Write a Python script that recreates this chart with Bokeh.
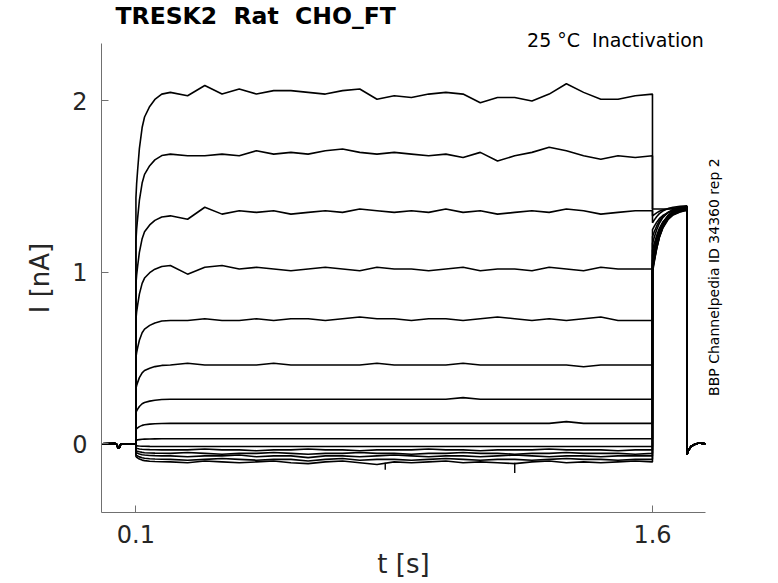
from bokeh.plotting import figure
from bokeh.models import Range1d, FixedTicker, ColumnDataSource, LinearAxis, Title
from bokeh.embed import file_html
from bokeh.resources import INLINE
import math

# ---------------- data ----------------
baseline_t = [0.0, 0.040, 0.045, 0.048, 0.052, 0.056, 0.0999]
baseline_i = [0.0, 0.002, -0.005, -0.025, -0.022, 0.0, 0.0]

rise_t = [0.100, 0.102, 0.105, 0.110, 0.118, 0.125, 0.140, 0.155, 0.175]
rise_frac = [0.70, 0.74, 0.78, 0.84, 0.90, 0.93, 0.96, 0.98, 0.995]

steady_t = [0.20, 0.25, 0.30, 0.35, 0.40, 0.45, 0.50, 0.55, 0.60, 0.65,
            0.70, 0.75, 0.80, 0.85, 0.90, 0.95, 1.00, 1.05, 1.10, 1.15,
            1.20, 1.25, 1.30, 1.35, 1.40, 1.45, 1.50, 1.55, 1.60]

trace_1 = [2.05, 2.03, 2.09, 2.04, 2.07, 2.04, 2.06, 2.06, 2.05, 2.04,
           2.06, 2.07, 2.01, 2.03, 2.02, 2.04, 2.05, 2.04, 1.99, 2.02,
           2.02, 2.00, 2.04, 2.10, 2.05, 2.01, 2.01, 2.03, 2.04]
trace_2 = [1.69, 1.68, 1.68, 1.69, 1.68, 1.71, 1.69, 1.70, 1.69, 1.71,
           1.72, 1.70, 1.69, 1.70, 1.69, 1.68, 1.69, 1.67, 1.70, 1.65,
           1.68, 1.70, 1.73, 1.71, 1.68, 1.66, 1.68, 1.67, 1.68]
trace_3 = [1.33, 1.31, 1.38, 1.34, 1.36, 1.35, 1.36, 1.34, 1.35, 1.36,
           1.35, 1.37, 1.36, 1.35, 1.36, 1.35, 1.37, 1.35, 1.36, 1.34,
           1.35, 1.36, 1.35, 1.37, 1.36, 1.34, 1.35, 1.36, 1.36]
trace_4 = [1.04, 0.99, 1.03, 1.04, 1.02, 1.03, 1.02, 1.01, 1.02, 1.03,
           1.02, 1.01, 1.03, 1.02, 1.02, 1.01, 1.02, 1.03, 1.01, 1.02,
           1.02, 1.01, 1.03, 1.02, 1.01, 1.03, 1.02, 1.02, 1.02]
trace_5 = [0.72, 0.72, 0.73, 0.72, 0.72, 0.73, 0.72, 0.73, 0.73, 0.72,
           0.73, 0.74, 0.73, 0.73, 0.72, 0.73, 0.73, 0.72, 0.73, 0.74,
           0.73, 0.72, 0.73, 0.72, 0.73, 0.74, 0.72, 0.72, 0.72]
trace_6 = [0.46, 0.47, 0.46, 0.46, 0.46, 0.46, 0.47, 0.46, 0.46, 0.46,
           0.46, 0.46, 0.47, 0.46, 0.46, 0.46, 0.46, 0.47, 0.46, 0.46,
           0.46, 0.46, 0.46, 0.46, 0.45, 0.46, 0.46, 0.46, 0.46]
trace_7 = [0.26, 0.26, 0.26, 0.26, 0.26, 0.26, 0.26, 0.26, 0.26, 0.26,
           0.26, 0.26, 0.26, 0.26, 0.26, 0.26, 0.26, 0.27, 0.26, 0.26,
           0.26, 0.26, 0.26, 0.26, 0.26, 0.26, 0.26, 0.26, 0.26]
trace_8 = [0.12, 0.12, 0.12, 0.12, 0.12, 0.12, 0.12, 0.12, 0.12, 0.12,
           0.12, 0.12, 0.12, 0.12, 0.12, 0.12, 0.12, 0.12, 0.12, 0.12,
           0.12, 0.12, 0.12, 0.13, 0.12, 0.12, 0.12, 0.12, 0.12]
trace_9 = [0.03, 0.03, 0.03, 0.03, 0.03, 0.03, 0.03, 0.03, 0.03, 0.03,
           0.03, 0.03, 0.03, 0.03, 0.03, 0.03, 0.03, 0.03, 0.03, 0.03,
           0.03, 0.03, 0.03, 0.03, 0.03, 0.03, 0.03, 0.03, 0.03]
trace_10 = [-0.015] * 29
trace_11 = [-0.035, -0.035, -0.03, -0.035, -0.035, -0.04, -0.035, -0.035, -0.03, -0.035,
            -0.035, -0.04, -0.035, -0.035, -0.035, -0.03, -0.035, -0.035, -0.04, -0.035,
            -0.035, -0.035, -0.03, -0.035, -0.035, -0.035, -0.04, -0.035, -0.035]
trace_12 = [-0.055, -0.05, -0.055, -0.06, -0.055, -0.055, -0.05, -0.055, -0.06, -0.055,
            -0.055, -0.05, -0.055, -0.055, -0.06, -0.055, -0.055, -0.05, -0.055, -0.055,
            -0.06, -0.055, -0.055, -0.05, -0.055, -0.055, -0.055, -0.06, -0.055]
trace_13 = [-0.07, -0.075, -0.07, -0.07, -0.065, -0.075, -0.07, -0.07, -0.08, -0.07,
            -0.07, -0.075, -0.07, -0.065, -0.07, -0.075, -0.07, -0.07, -0.075, -0.07,
            -0.065, -0.07, -0.075, -0.07, -0.07, -0.075, -0.07, -0.07, -0.07]
trace_14 = [-0.09, -0.095, -0.09, -0.085, -0.09, -0.095, -0.09, -0.09, -0.1, -0.09,
            -0.085, -0.095, -0.09, -0.09, -0.095, -0.09, -0.085, -0.09, -0.095, -0.09,
            -0.09, -0.095, -0.09, -0.085, -0.09, -0.09, -0.095, -0.09, -0.09]
trace_15 = [-0.105, -0.11, -0.10, -0.105, -0.11, -0.105, -0.10, -0.11, -0.115, -0.105,
            -0.10, -0.11, -0.12, -0.105, -0.11, -0.105, -0.10, -0.11, -0.105, -0.11,
            -0.115, -0.105, -0.10, -0.11, -0.105, -0.11, -0.105, -0.10, -0.105]

traces = [trace_1, trace_2, trace_3, trace_4, trace_5, trace_6, trace_7, trace_8,
          trace_9, trace_10, trace_11, trace_12, trace_13, trace_14, trace_15]

tail_t = [1.6001, 1.605, 1.612, 1.620, 1.630, 1.645, 1.660, 1.680, 1.700]
tail_remaining = [1.0, 0.85, 0.65, 0.47, 0.32, 0.18, 0.10, 0.05, 0.02]
tail_level = [1.37, 1.38, 1.39, 1.37, 1.38, 1.39, 1.37, 1.38, 1.39,
              1.37, 1.38, 1.39, 1.37, 1.38, 1.39]
tail_start = [1.37, 1.33, 1.29, 1.25, 1.21, 1.17, 1.13, 1.10, 1.07,
              1.05, 1.04, 1.03, 1.02, 1.01, 1.00]

end_t = [1.7005, 1.703, 1.707, 1.712, 1.720, 1.735, 1.754]
end_i = [-0.06, -0.045, -0.03, -0.015, -0.005, 0.005, 0.0]

spike_t = [0.824, 1.200]
spike_low = [-0.15, -0.17]
spike_high = [-0.11, -0.11]

x_ticks = [0.1, 1.6]
y_ticks = [0, 1, 2]

title_text = "TRESK2 \u00a0Rat \u00a0CHO_FT"
cond_text = "25 °C \u00a0Inactivation"
id_text = "BBP Channelpedia ID 34360 rep 2"

# ---------------- build lines ----------------
xs, ys = [], []
for k, tr in enumerate(traces):
    level0 = tr[0]
    x = baseline_t + rise_t + steady_t + tail_t + end_t
    y = (baseline_i
         + [f * level0 for f in rise_frac]
         + tr
         + [tail_level[k] - r * (tail_level[k] - tail_start[k]) for r in tail_remaining]
         + end_i)
    xs.append(x)
    ys.append(y)

src = ColumnDataSource(dict(xs=xs, ys=ys))

p = figure(width=770, height=583, output_backend="svg", toolbar_location=None,
           x_range=Range1d(0.0, 1.754), y_range=Range1d(-0.40, 2.335),
           min_border_left=101, min_border_right=65, min_border_top=43,
           min_border_bottom=71, title=None)

p.multi_line(xs="xs", ys="ys", source=src, line_color="black", line_width=1.6)
p.segment(x0=spike_t, y0=spike_high, x1=spike_t, y1=spike_low,
          line_color="black", line_width=1.4)

p.outline_line_color = None
p.xgrid.visible = False
p.ygrid.visible = False
p.background_fill_color = "white"
p.border_fill_color = "white"

for ax in (p.xaxis[0], p.yaxis[0]):
    ax.axis_line_color = "#707070"
    ax.major_tick_line_color = "#707070"
    ax.major_tick_in = 7
    ax.major_tick_out = 0
    ax.minor_tick_line_color = None
    ax.major_label_text_font = "DejaVu Sans"
    ax.major_label_text_font_size = "24px"
    ax.major_label_text_color = "#262626"
    ax.axis_label_text_font = "DejaVu Sans"
    ax.axis_label_text_font_size = "26px"
    ax.axis_label_text_font_style = "normal"
    ax.axis_label_text_color = "#262626"

p.xaxis.ticker = FixedTicker(ticks=x_ticks)
p.yaxis.ticker = FixedTicker(ticks=y_ticks)
p.xaxis.major_label_standoff = 12
p.xaxis.axis_label_standoff = 3
p.yaxis.major_label_standoff = 14
p.yaxis.axis_label_standoff = 14
p.xaxis.axis_label = "t [s]"
p.yaxis.axis_label = "I [nA]"

# condition text (top right, above the frame)
top_ax = LinearAxis(ticker=FixedTicker(ticks=[1.4925]),
                    major_label_overrides={1.4925: cond_text})
top_ax.axis_line_color = None
top_ax.major_tick_line_color = None
top_ax.minor_tick_line_color = None
top_ax.major_label_standoff = -13
top_ax.major_label_text_font = "DejaVu Sans"
top_ax.major_label_text_font_size = "19px"
top_ax.major_label_text_color = "black"
p.add_layout(top_ax, "above")

# id text (right, vertical)
right_ax = LinearAxis(ticker=FixedTicker(ticks=[0.28]),
                      major_label_overrides={0.28: id_text})
right_ax.axis_line_color = None
right_ax.major_tick_line_color = None
right_ax.minor_tick_line_color = None
right_ax.major_label_standoff = 3
right_ax.major_label_orientation = math.pi / 2
right_ax.major_label_text_font = "DejaVu Sans"
right_ax.major_label_text_font_size = "14px"
right_ax.major_label_text_color = "black"
p.add_layout(right_ax, "right")

p.add_layout(Title(text=title_text, align="left", offset=14, standoff=-9,
                   text_font="DejaVu Sans", text_font_style="bold",
                   text_font_size="23.5px", text_color="black"), "above")

open("out.html", "w").write(file_html(p, INLINE))
